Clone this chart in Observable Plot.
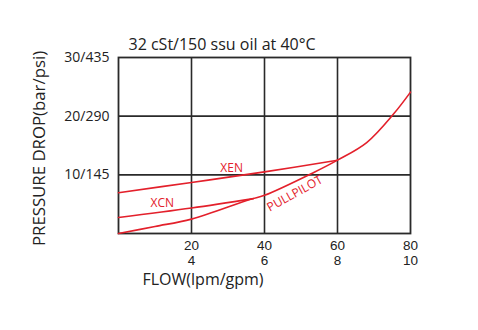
<!DOCTYPE html>
<html><head><meta charset="utf-8">
<script src="https://cdn.jsdelivr.net/npm/d3@7"></script>
<script src="https://cdn.jsdelivr.net/npm/@observablehq/plot@0.6"></script>
<style>body{margin:0;background:#fff} #chart svg{font-family:"Open Sans",sans-serif;}</style>
</head><body><div id="chart"></div>
<script>
// Data
const xenFlow = [0, 20, 40, 60];
const xenDrop = [6.95, 8.7, 10.5, 12.5];
const xcnFlow = [0, 20, 37];
const xcnDrop = [2.73, 4.35, 5.95];
const pullFlow = [0, 10, 20, 36, 40, 53.5, 60, 68, 75.4, 80];
const pullDrop = [0, 1.2, 2.45, 5.8, 6.5, 10.4, 12.5, 15.5, 20.4, 24.1];

const xTicks = [20, 40, 60, 80];
const xTicksGpm = [4, 6, 8, 10];
const yTicks = [10, 20, 30];
const yTicksPsi = [145, 290, 435];

const curveNames = ["XEN", "XCN", "PULLPILOT"];
const labelFlow = [31, 12, 48.3];
const labelDrop = [11.2, 5.1, 6.8];
const labelAngle = [0, 0, -29];

const title = "32 cSt/150 ssu oil at 40°C";
const xLabel = "FLOW(lpm/gpm)";
const yLabel = "PRESSURE DROP(bar/psi)";

const rows = [
  ...xenFlow.map((f, i) => ({series: "XEN", flow: f, drop: xenDrop[i]})),
  ...xcnFlow.map((f, i) => ({series: "XCN", flow: f, drop: xcnDrop[i]})),
  ...pullFlow.map((f, i) => ({series: "PULLPILOT", flow: f, drop: pullDrop[i]}))
];
const labels = curveNames.map((n, i) => ({name: n, flow: labelFlow[i], drop: labelDrop[i], angle: labelAngle[i]}));

const RED = "#e3202b";
const GRID = "#2a2a2a";
const TICKFONT = "Liberation Sans";

const chart = Plot.plot({
  width: 478, height: 330,
  marginLeft: 118, marginRight: 68, marginTop: 57, marginBottom: 97,
  style: {fontFamily: "Open Sans", fontSize: "14px", color: "#222", background: "#fff", overflow: "visible"},
  x: {domain: [0, 80]},
  y: {domain: [0, 30]},
  marks: [
    Plot.gridX(xTicks.slice(0, 3), {stroke: GRID, strokeOpacity: 1, strokeWidth: 1.6}),
    Plot.gridY(yTicks.slice(0, 2), {stroke: GRID, strokeOpacity: 1, strokeWidth: 1.6}),
    Plot.frame({stroke: GRID, strokeWidth: 1.8}),
    Plot.axisX(xTicks, {tickSize: 0, tickPadding: 6.5, label: null, fontSize: 13.5, fontFamily: TICKFONT,
      tickFormat: d => `${d}`}),
    Plot.axisX(xTicks, {tickSize: 0, tickPadding: 21.7, label: null, fontSize: 13.5, fontFamily: TICKFONT,
      tickFormat: d => `${xTicksGpm[xTicks.indexOf(d)]}`}),
    Plot.axisY(yTicks, {tickSize: 0, tickPadding: 9, label: null, fontSize: 14,
      tickFormat: d => `${d}/${yTicksPsi[yTicks.indexOf(d)]}`}),
    Plot.line(rows, {x: "flow", y: "drop", z: "series", stroke: RED, strokeWidth: 1.6, curve: "catmull-rom"}),
    Plot.text(labels, {x: "flow", y: "drop", text: "name", rotate: "angle", fill: RED, fontSize: 12}),
    Plot.text([title], {frameAnchor: "top-left", textAnchor: "start", dx: 10, dy: -19, fontSize: 16, fill: "#222"}),
    Plot.text([xLabel], {frameAnchor: "bottom-left", textAnchor: "start", dx: 24, dy: 51, fontSize: 16, fill: "#222"}),
    Plot.text([yLabel], {frameAnchor: "left", textAnchor: "middle", rotate: -90, dx: -79, dy: 3, fontSize: 16.8, fill: "#222"})
  ]
});
document.getElementById("chart").append(chart);
</script>
</body></html>
